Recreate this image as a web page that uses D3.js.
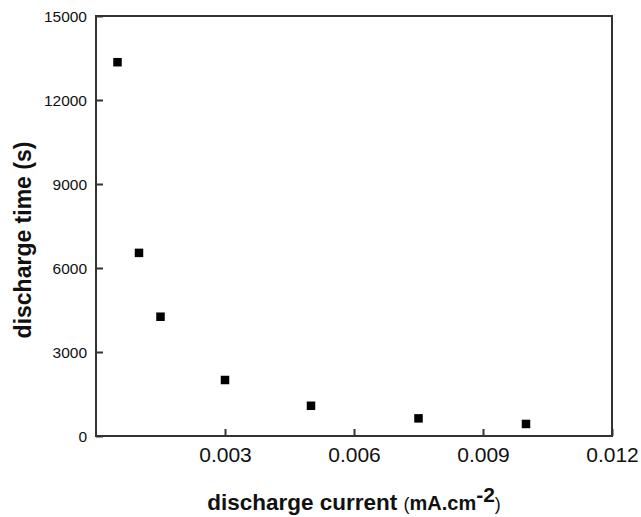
<!DOCTYPE html>
<html>
<head>
<meta charset="utf-8">
<script src="https://cdn.jsdelivr.net/npm/d3@7"></script>
<style>
  html, body { margin: 0; padding: 0; background: #fff; }
  svg { display: block; }
  text { font-family: "Liberation Sans", Arial, sans-serif; }
</style>
</head>
<body>
<svg id="chart" width="641" height="517"></svg>
<script>
const currents = [0.0005, 0.001, 0.0015, 0.003, 0.005, 0.0075, 0.01];
const times = [13350, 6540, 4260, 2000, 1080, 630, 430];
const xTicks = [0.003, 0.006, 0.009, 0.012];
const yTicks = [0, 3000, 6000, 9000, 12000, 15000];

const svg = d3.select("#chart");
const pLeft = 96, pRight = 612, pTop = 16, pBottom = 436;
const x = d3.scaleLinear().domain([0, 0.012]).range([pLeft, pRight]);
const y = d3.scaleLinear().domain([0, 15000]).range([pBottom, pTop]);
const axisColor = "#333";

// frame
svg.append("rect")
  .attr("x", pLeft).attr("y", pTop)
  .attr("width", pRight - pLeft).attr("height", pBottom - pTop)
  .attr("fill", "none").attr("stroke", axisColor).attr("stroke-width", 2);

// x axis (ticks inward)
const xAxis = svg.append("g")
  .attr("transform", `translate(0,${pBottom})`)
  .call(d3.axisBottom(x).tickValues(xTicks).tickSizeInner(-7).tickSizeOuter(0)
    .tickPadding(0).tickFormat(d3.format(".3f")));
xAxis.select(".domain").remove();
xAxis.selectAll(".tick line").attr("stroke", axisColor).attr("stroke-width", 2);
xAxis.selectAll(".tick text").attr("y", 26).attr("dy", null)
  .attr("font-size", "21px").attr("fill", "#111")
  .style("font-family", "'Liberation Sans', Arial, sans-serif");

// y axis (ticks inward)
const yAxis = svg.append("g")
  .attr("transform", `translate(${pLeft},0)`)
  .call(d3.axisLeft(y).tickValues(yTicks).tickSizeInner(-7).tickSizeOuter(0)
    .tickPadding(0).tickFormat(d3.format("d")));
yAxis.select(".domain").remove();
yAxis.selectAll(".tick line").attr("stroke", axisColor).attr("stroke-width", 2);
yAxis.selectAll(".tick text").attr("x", -9).attr("dy", "0.35em")
  .attr("font-size", "15.5px").attr("fill", "#111")
  .style("font-family", "'Liberation Sans', Arial, sans-serif");

// points
const ms = 8.5;
svg.append("g").selectAll("rect")
  .data(currents.map((c, i) => ({c, t: times[i]})))
  .join("rect")
  .attr("x", d => x(d.c) - ms / 2)
  .attr("y", d => y(d.t) - ms / 2)
  .attr("width", ms).attr("height", ms)
  .attr("fill", "#000");

// y title
svg.append("text")
  .attr("transform", `translate(31,240) rotate(-90)`)
  .attr("text-anchor", "middle")
  .attr("font-size", "23px").attr("font-weight", "bold").attr("fill", "#111")
  .text("discharge time (s)");

// x title
const xt = svg.append("text")
  .attr("x", (pLeft + pRight) / 2).attr("y", 510)
  .attr("text-anchor", "middle")
  .attr("font-weight", "bold").attr("fill", "#111");
xt.append("tspan").attr("font-size", "22.5px").text("discharge current ");
xt.append("tspan").attr("font-size", "18px").attr("font-weight", "normal").text("(");
xt.append("tspan").attr("font-size", "20px").text("mA.cm");
xt.append("tspan").attr("font-size", "21px").attr("dy", -8).text("-2");
xt.append("tspan").attr("font-size", "18px").attr("font-weight", "normal").attr("dy", 8).text(")");
</script>
</body>
</html>
